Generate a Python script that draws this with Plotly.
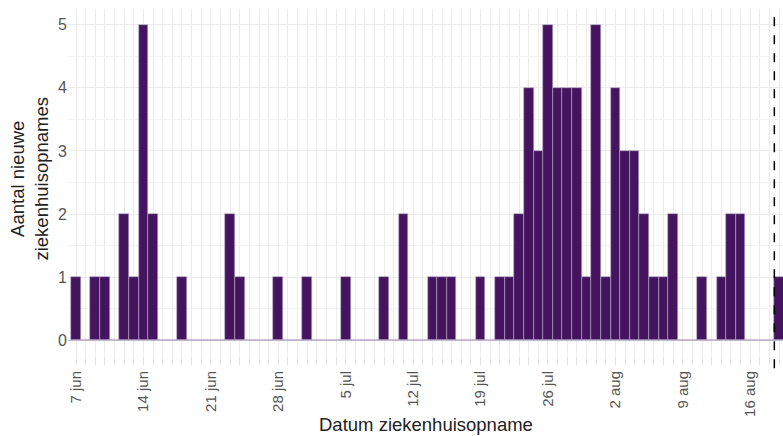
import plotly.graph_objects as go
import pandas as pd

start_date = "2020-06-07"
counts = [
    1, 0, 1, 1, 0, 2, 1, 5, 2, 0,   # 7-16 jun
    0, 1, 0, 0, 0, 0, 2, 1, 0, 0,   # 17-26 jun
    0, 1, 0, 0, 1, 0, 0, 0, 1, 0,   # 27 jun - 6 jul
    0, 0, 1, 0, 2, 0, 0, 1, 1, 1,   # 7-16 jul
    0, 0, 1, 0, 1, 1, 2, 4, 3, 5,   # 17-26 jul
    4, 4, 4, 1, 5, 1, 4, 3, 3, 2,   # 27 jul - 5 aug
    1, 1, 2, 0, 0, 1, 0, 1, 2, 2,   # 6-15 aug
    0, 0, 0, 1,                     # 16-19 aug
]
dates = pd.date_range(start_date, periods=len(counts), freq="D")

tick_dates = ["2020-06-07", "2020-06-14", "2020-06-21", "2020-06-28", "2020-07-05",
              "2020-07-12", "2020-07-19", "2020-07-26", "2020-08-02", "2020-08-09",
              "2020-08-16"]
tick_labels = ["7 jun", "14 jun", "21 jun", "28 jun", "5 jul", "12 jul", "19 jul",
               "26 jul", "2 aug", "9 aug", "16 aug"]
cutoff_date = "2020-08-18 12:00"
x_title = "Datum ziekenhuisopname"
y_title = "Aantal nieuwe<br>ziekenhuisopnames"

fig = go.Figure()
fig.add_trace(go.Bar(
    x=dates, y=counts,
    width=86400000,
    marker=dict(color="#45145e", line=dict(color="#b9a8c8", width=0.6)),
    showlegend=False,
))

fig.add_shape(type="line", xref="x", yref="paper",
              x0=cutoff_date, x1=cutoff_date, y0=-0.035, y1=1,
              line=dict(color="black", width=1.5, dash="dash"))

font_family = "Liberation Sans, Arial, sans-serif"
fig.add_annotation(text=x_title, xref="paper", yref="paper", x=0.5, y=-0.198,
                   xanchor="center", yanchor="middle", showarrow=False,
                   font=dict(size=18.5, color="#222222"))
fig.add_annotation(text=y_title, xref="paper", yref="paper", x=-0.02, y=0.512,
                   xanchor="right", yanchor="middle", showarrow=False, textangle=-90,
                   font=dict(size=18.5, color="#222222"))

fig.update_layout(
    width=783, height=436,
    margin=dict(l=68, r=0, t=9, b=80),
    plot_bgcolor="white", paper_bgcolor="white",
    bargap=0,
    font=dict(family=font_family, color="#222222"),
    xaxis=dict(
        range=["2020-06-06 04:00", "2020-08-19 09:36"],
        automargin=False,
        tickmode="array", tickvals=tick_dates, ticktext=tick_labels,
        tickangle=-90,
        tickfont=dict(size=15, color="#555555"),
        ticks="outside", ticklen=8, tickcolor="#e3e3e3", tickwidth=1,
        showgrid=True, gridcolor="#ebebeb", gridwidth=1,
        minor=dict(dtick=86400000, tick0="2020-06-07", showgrid=True,
                   gridcolor="#ebebeb", gridwidth=1,
                   ticks="outside", ticklen=8, tickcolor="#e3e3e3", tickwidth=1),
        showline=False, zeroline=False,
    ),
    yaxis=dict(
        range=[-0.25, 5.25],
        automargin=False,
        tickvals=[0, 1, 2, 3, 4, 5],
        tickfont=dict(size=16, color="#555555"),
        ticks="", showgrid=True, gridcolor="#ebebeb", gridwidth=1,
        minor=dict(dtick=0.5, tick0=0, showgrid=True, gridcolor="#f2f2f2", gridwidth=1),
        zeroline=True, zerolinecolor="#c5b8d3", zerolinewidth=1,
    ),
)

fig.write_html("out.html", config={"displayModeBar": False},
               post_script="document.body.style.margin='0px';document.body.style.overflow='hidden';")
